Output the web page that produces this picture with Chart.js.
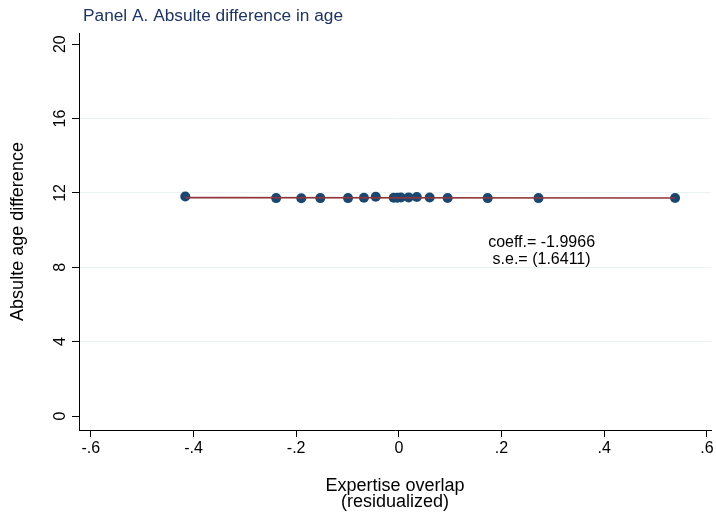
<!DOCTYPE html>
<html lang="en">

<head>
    <meta charset="UTF-8">
    <title>Panel A</title>
    <script src="https://cdn.jsdelivr.net/npm/chart.js"></script>
    <style>
        html, body { margin: 0; padding: 0; background: #fff; }
        #box { width: 716px; height: 512px; }
    </style>
</head>

<body>
    <div id="box">
        <canvas id="grafico"></canvas>
    </div>
</body>

</html>

<script>

    // valores
    var overlap = [-0.416, -0.239, -0.190, -0.153, -0.099, -0.068, -0.045, -0.010, -0.003, 0.004, 0.019, 0.035, 0.060, 0.095, 0.173, 0.272, 0.538];
    var ageDiff = [11.81, 11.72, 11.71, 11.72, 11.72, 11.74, 11.79, 11.74, 11.74, 11.75, 11.76, 11.78, 11.75, 11.73, 11.72, 11.72, 11.73];

    // reta ajustada (extremos)
    var fitX = [-0.416, 0.538];
    var fitY = [11.745, 11.725];

    var xTicks = [-0.6, -0.4, -0.2, 0, 0.2, 0.4, 0.6];
    var yTicks = [0, 4, 8, 12, 16, 20];

    var titulo = 'Panel A. Absulte difference in age';
    var notaLinhas = ['coeff.= -1.9966', 's.e.= (1.6411)'];
    var notaPos = { x: 0.278, y: 9.35 };

    var fonte = '"Liberation Sans", Arial, sans-serif';

    function fmt(v) {
        if (Math.abs(v) < 1e-9) return '0';
        var s = v.toFixed(1);
        return s.replace('0.', '.');
    }

    var pontos = overlap.map(function (v, i) { return { x: v, y: ageDiff[i] }; });
    var reta = fitX.map(function (v, i) { return { x: v, y: fitY[i] }; });

    // titulo, rotulos do eixo y girados e nota
    var extras = {
        id: 'extras',
        afterDraw: function (chart) {
            var ctx = chart.ctx;
            var ys = chart.scales.y;
            var xs = chart.scales.x;
            ctx.save();
            ctx.fillStyle = '#1e3560';
            ctx.font = '17.3px ' + fonte;
            ctx.textAlign = 'left';
            ctx.textBaseline = 'middle';
            ctx.fillText(titulo, 83, 16);

            ctx.fillStyle = '#000';
            ctx.font = '16px ' + fonte;
            ctx.textAlign = 'center';
            for (var i = 0; i < yTicks.length; i++) {
                var py = ys.getPixelForValue(yTicks[i]);
                ctx.save();
                ctx.translate(61, py);
                ctx.rotate(-Math.PI / 2);
                ctx.fillText(String(yTicks[i]), 0, 0);
                ctx.restore();
            }

            var nx = xs.getPixelForValue(notaPos.x);
            var ny = ys.getPixelForValue(notaPos.y);
            ctx.fillText(notaLinhas[0], nx, ny);
            ctx.fillText(notaLinhas[1], nx, ny + 17);
            ctx.restore();
        }
    };

    var ctx = document.getElementById('grafico').getContext('2d');
    var grafico = new Chart(ctx, {
        data: {
            datasets: [
                {
                    type: 'line',
                    data: reta,
                    borderColor: '#90353b',
                    borderWidth: 1.6,
                    pointRadius: 0,
                    fill: false
                },
                {
                    type: 'scatter',
                    data: pontos,
                    backgroundColor: '#1a476f',
                    borderColor: '#1a476f',
                    pointRadius: 5,
                    borderWidth: 0
                }
            ]
        },
        options: {
            responsive: true,
            maintainAspectRatio: false,
            animation: false,
            layout: { padding: { top: 33, right: 0, left: 0, bottom: 0 } },
            plugins: {
                legend: { display: false },
                tooltip: { enabled: false }
            },
            scales: {
                x: {
                    type: 'linear',
                    min: -0.623,
                    max: 0.608,
                    afterBuildTicks: function (scale) {
                        scale.ticks = xTicks.map(function (v) { return { value: v }; });
                    },
                    afterFit: function (scale) { scale.height = 82; },
                    ticks: {
                        color: '#000',
                        font: { size: 16, family: fonte },
                        padding: 2,
                        maxRotation: 0,
                        autoSkip: false,
                        callback: function (v) { return fmt(v); }
                    },
                    grid: {
                        drawOnChartArea: false,
                        drawTicks: true,
                        tickLength: 7,
                        tickColor: '#000'
                    },
                    border: { display: true, color: '#000', width: 1 },
                    title: {
                        display: true,
                        text: ['Expertise overlap', '(residualized)'],
                        color: '#000',
                        font: { size: 18, family: fonte, lineHeight: 0.9 },
                        padding: { top: 0, bottom: 2 }
                    }
                },
                y: {
                    type: 'linear',
                    min: -0.75,
                    max: 20.6,
                    afterBuildTicks: function (scale) {
                        scale.ticks = yTicks.map(function (v) { return { value: v }; });
                    },
                    afterFit: function (scale) { scale.width = 79; },
                    ticks: { display: false },
                    grid: {
                        drawOnChartArea: true,
                        drawTicks: true,
                        tickLength: 7,
                        tickColor: '#000',
                        color: function (c) {
                            var v = c.tick ? c.tick.value : null;
                            if (v === 0 || v === 20) return 'rgba(0,0,0,0)';
                            return '#eaf2f3';
                        }
                    },
                    border: { display: true, color: '#000', width: 1 },
                    title: {
                        display: true,
                        text: 'Absulte age difference',
                        color: '#000',
                        font: { size: 18, family: fonte },
                        padding: { top: 7, bottom: 0 }
                    }
                }
            }
        },
        plugins: [extras]
    });

</script>
